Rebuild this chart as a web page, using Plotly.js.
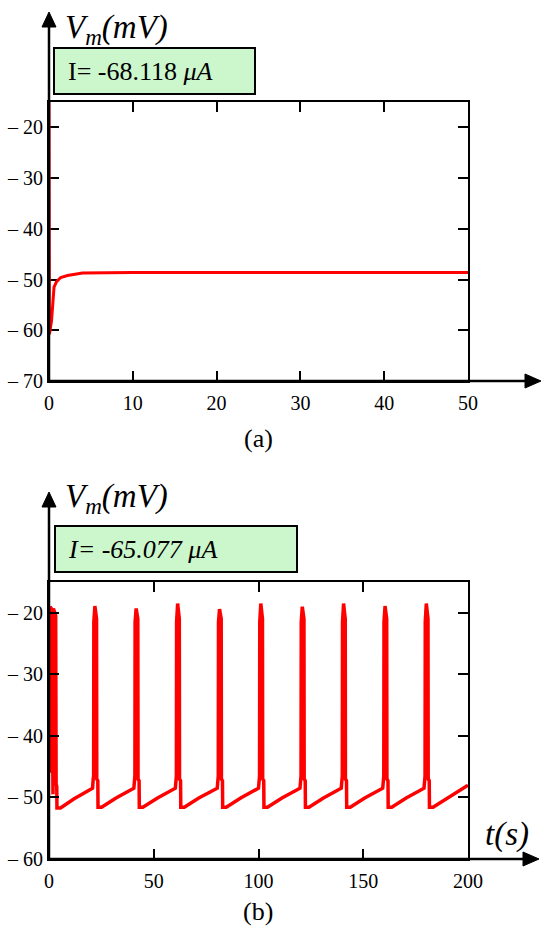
<!DOCTYPE html>
<html>
<head>
<meta charset="utf-8">
<script src="https://cdn.plot.ly/plotly-3.0.1.min.js"></script>
<style>html,body{margin:0;padding:0;background:#fff;}#chart{width:550px;height:945px;}</style>
</head>
<body>
<div id="chart"></div>
<script>
// ---------- data (a): I = -68.118 uA, t in s, Vm in mV ----------
const tA = [0, 0.02, 0.05, 0.3, 0.45, 0.6, 0.9, 1.4, 2.2, 3.0, 4.0, 10, 20, 30, 40, 50];
const vA = [-14, -40, -60.8, -58.2, -54.5, -51.5, -50.4, -49.6, -49.2, -49.0, -48.7, -48.6, -48.6, -48.6, -48.6, -48.6];

// ---------- data (b): I = -65.077 uA ----------
const tB = [
  0.3, 0.5, 1.3, 1.6, 1.9, 2.1, 3.2, 3.4, 3.7, 3.8, 5.5, 12.0, 20.8, 21.1,
  21.3, 21.4, 21.9, 22.7, 22.8, 23.3, 23.4, 25.1, 32.0, 40.5, 40.8,
  41.0, 41.1, 41.6, 42.4, 42.5, 43.0, 43.1, 44.8, 51.8, 60.3, 60.6,
  60.8, 60.9, 61.4, 62.2, 62.3, 62.8, 62.9, 64.6, 71.5, 80.3, 80.6,
  80.8, 80.9, 81.4, 82.2, 82.3, 82.8, 82.9, 84.6, 91.5, 100.0, 100.3,
  100.5, 100.6, 101.1, 101.9, 102.0, 102.5, 102.6, 104.3, 111.2, 119.8, 120.1,
  120.3, 120.4, 120.9, 121.7, 121.8, 122.3, 122.4, 124.1, 131.0, 139.5, 139.8,
  140.0, 140.1, 140.6, 141.4, 141.5, 142.0, 142.1, 143.8, 150.7, 159.3, 159.6,
  159.8, 159.9, 160.4, 161.2, 161.3, 161.8, 161.9, 163.6, 170.5, 179.0, 179.3,
  179.5, 179.6, 180.1, 180.9, 181.0, 181.5, 181.6, 183.3, 190.5, 200.0
];
const vB = [
  -46.0, -19.0, -19.4, -44.0, -49.5, -19.3, -20.5, -47.8, -48.2, -51.7, -51.7, -50.2, -48.5, -47.0,
  -46.5, -21.5, -18.9, -21.0, -47.0, -47.3, -51.6, -51.6, -50.1, -48.5, -47.0,
  -46.5, -21.5, -19.3, -21.0, -47.0, -47.3, -51.6, -51.6, -50.1, -48.5, -47.0,
  -46.5, -21.5, -18.5, -21.0, -47.0, -47.3, -51.6, -51.6, -50.1, -48.5, -47.0,
  -46.5, -21.5, -19.4, -21.0, -47.0, -47.3, -51.6, -51.6, -50.1, -48.5, -47.0,
  -46.5, -21.5, -18.5, -21.0, -47.0, -47.3, -51.6, -51.6, -50.1, -48.5, -47.0,
  -46.5, -21.5, -19.0, -21.0, -47.0, -47.3, -51.6, -51.6, -50.1, -48.5, -47.0,
  -46.5, -21.5, -18.5, -21.0, -47.0, -47.3, -51.6, -51.6, -50.1, -48.5, -47.0,
  -46.5, -21.5, -18.9, -21.0, -47.0, -47.3, -51.6, -51.6, -50.1, -48.5, -47.0,
  -46.5, -21.5, -18.5, -21.0, -47.0, -47.3, -51.6, -51.6, -50.0, -48.0
];

// ---------- ticks / labels ----------
const xTicksA = [0, 10, 20, 30, 40, 50];
const yTicksA = [-70, -60, -50, -40, -30, -20];
const xTicksB = [0, 50, 100, 150, 200];
const yTicksB = [-60, -50, -40, -30, -20];
const fmtY = v => '\u2013 ' + Math.abs(v);
const labelA = 'I= -68.118 <i>\u03bcA</i>';
const labelB = '<i>I= -65.077 \u03bcA</i>';
const yLabel = '<i>V<sub>m</sub>(mV)</i>';
const xLabel = '<i>t(s)</i>';

// ---------- geometry helpers (pixels -> paper) ----------
const L = 49, R = 468, T = 102, B = 859;
const px2x = p => (p - L) / (R - L);
const px2y = p => (B - p) / (B - T);
const SERIF = '"Liberation Serif", "Times New Roman", Times, serif';

function axStyle(extra) {
  return Object.assign({
    ticks: 'inside', ticklen: 10, tickwidth: 2, tickcolor: '#000',
    showline: true, linewidth: 2, linecolor: '#000', mirror: 'ticks',
    showgrid: false, zeroline: false,
    tickfont: {family: SERIF, size: 20, color: '#000'}
  }, extra);
}

const traces = [
  {x: tA, y: vA, xaxis: 'x', yaxis: 'y', mode: 'lines', line: {color: '#ff0000', width: 3}, hoverinfo: 'skip'},
  {x: tB, y: vB, xaxis: 'x2', yaxis: 'y2', mode: 'lines', line: {color: '#ff0000', width: 3.5}, hoverinfo: 'skip'}
];

function arrowShapes(yTipPx, yBotPlotPx, xTipPx) {
  const hw = 7;
  return [
    {type: 'line', xref: 'paper', yref: 'paper', x0: 0, x1: 0, y0: px2y(yBotPlotPx), y1: px2y(yTipPx + 12), line: {color: '#000', width: 2.5}},
    {type: 'path', xref: 'paper', yref: 'paper', fillcolor: '#000', line: {color: '#000', width: 1},
      path: `M ${px2x(L)} ${px2y(yTipPx)} L ${px2x(L - hw)} ${px2y(yTipPx + 15)} L ${px2x(L + hw)} ${px2y(yTipPx + 15)} Z`},
    {type: 'line', xref: 'paper', yref: 'paper', x0: 0, x1: px2x(xTipPx - 14), y0: px2y(yBotPlotPx), y1: px2y(yBotPlotPx), line: {color: '#000', width: 2.5}},
    {type: 'path', xref: 'paper', yref: 'paper', fillcolor: '#000', line: {color: '#000', width: 1},
      path: `M ${px2x(xTipPx)} ${px2y(yBotPlotPx)} L ${px2x(xTipPx - 16)} ${px2y(yBotPlotPx - hw)} L ${px2x(xTipPx - 16)} ${px2y(yBotPlotPx + hw)} Z`}
  ];
}

const boxFont = {family: SERIF, size: 26, color: '#000'};

const layout = {
  width: 550, height: 945,
  margin: {l: L, r: 550 - R, t: T, b: 945 - B, pad: 0},
  paper_bgcolor: '#fff', plot_bgcolor: '#fff',
  showlegend: false,
  xaxis: axStyle({domain: [0, 1], range: [0, 50], anchor: 'y', tickvals: xTicksA, ticklabelstandoff: 3}),
  yaxis: axStyle({domain: [px2y(381), 1], range: [-70, -15], anchor: 'x', tickvals: yTicksA, ticktext: yTicksA.map(fmtY), layer: 'below traces'}),
  xaxis2: axStyle({domain: [0, 1], range: [0, 200], anchor: 'y2', tickvals: xTicksB, ticklabelstandoff: 3}),
  yaxis2: axStyle({domain: [0, px2y(582)], range: [-60, -15], anchor: 'x2', tickvals: yTicksB, ticktext: yTicksB.map(fmtY)}),
  shapes: [].concat(arrowShapes(12, 381, 541), arrowShapes(492, 859, 539)),
  annotations: [
    {xref: 'paper', yref: 'paper', x: px2x(63), y: px2y(7), xanchor: 'left', yanchor: 'top', showarrow: false,
      text: yLabel, font: {family: SERIF, size: 33, color: '#000'}},
    {xref: 'paper', yref: 'paper', x: px2x(53), y: px2y(47), xanchor: 'left', yanchor: 'top', showarrow: false,
      text: '\u00a0\u00a0' + labelA, align: 'left', width: 199, height: 44, bgcolor: '#ccf7cc', bordercolor: '#000', borderwidth: 2, borderpad: 0,
      font: boxFont},
    {xref: 'paper', yref: 'paper', x: px2x(258), y: px2y(438), xanchor: 'center', yanchor: 'middle', showarrow: false,
      text: '(a)', font: {family: SERIF, size: 26, color: '#000'}},

    {xref: 'paper', yref: 'paper', x: px2x(63), y: px2y(476), xanchor: 'left', yanchor: 'top', showarrow: false,
      text: yLabel, font: {family: SERIF, size: 33, color: '#000'}},
    {xref: 'paper', yref: 'paper', x: px2x(54), y: px2y(525), xanchor: 'left', yanchor: 'top', showarrow: false,
      text: '\u00a0\u00a0' + labelB, align: 'left', width: 240, height: 44, bgcolor: '#ccf7cc', bordercolor: '#000', borderwidth: 2, borderpad: 0,
      font: boxFont},
    {xref: 'paper', yref: 'paper', x: px2x(507), y: px2y(834), xanchor: 'center', yanchor: 'middle', showarrow: false,
      text: xLabel, font: {family: SERIF, size: 33, color: '#000'}},
    {xref: 'paper', yref: 'paper', x: px2x(258), y: px2y(912), xanchor: 'center', yanchor: 'middle', showarrow: false,
      text: '(b)', font: {family: SERIF, size: 26, color: '#000'}}
  ]
};

Plotly.newPlot('chart', traces, layout, {staticPlot: true, displayModeBar: false});
</script>
</body>
</html>
